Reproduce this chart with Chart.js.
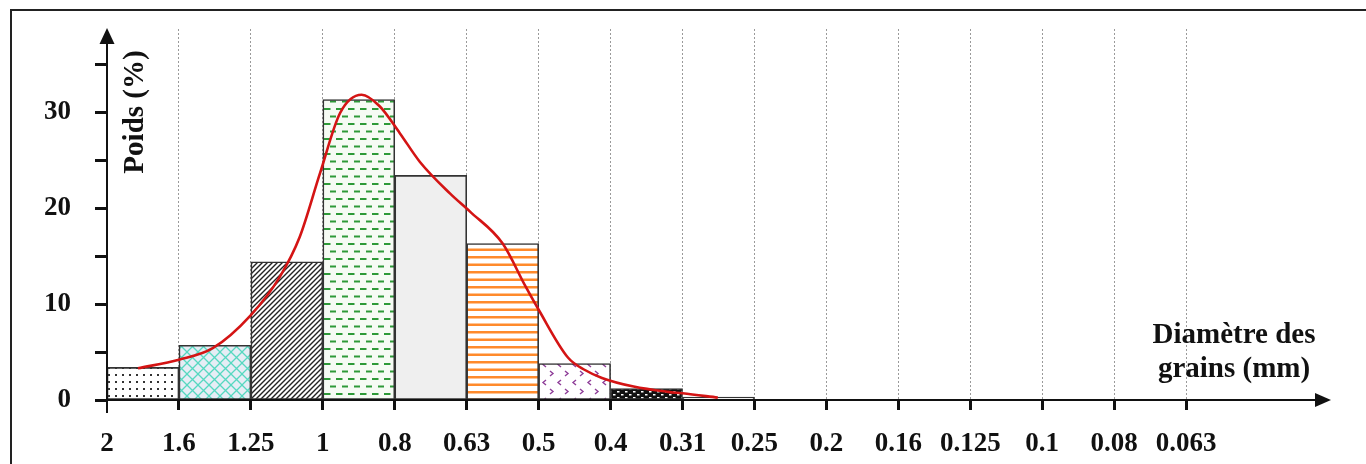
<!DOCTYPE html>
<html>
<head>
<meta charset="utf-8">
<script src="https://cdn.jsdelivr.net/npm/chart.js@4.4.1/dist/chart.umd.min.js"></script>
<style>
  html, body { margin: 0; padding: 0; background: #fff; overflow: hidden; }
  #wrap { position: relative; width: 1366px; height: 464px; }
  #frame {
    position: absolute; left: 10px; top: 9px; width: 1400px; height: 500px;
    border: 2px solid #222; box-sizing: border-box; pointer-events: none;
  }
  canvas { position: absolute; left: 0; top: 0; }
</style>
</head>
<body>
<div id="wrap">
  <canvas id="chart" width="1366" height="464"></canvas>
  <div id="frame"></div>
</div>
<script>
// Sieve openings (mm), one label per tick on the x axis
const SIEVE_LABELS = ['2', '1.6', '1.25', '1', '0.8', '0.63', '0.5', '0.4', '0.31',
  '0.25', '0.2', '0.16', '0.125', '0.1', '0.08', '0.063'];

// Weight retained (%) in each interval between two sieves
const WEIGHT_PCT = [3.4, 5.7, 14.4, 31.3, 23.4, 16.3, 3.8, 1.2, 0.3, 0, 0, 0, 0, 0, 0];

// Smoothed distribution curve (position in sieve steps, %)
const CURVE_POS = [0.43, 1.0, 1.47, 2.0, 2.4, 2.68, 2.96, 3.24, 3.54, 3.79, 4.07, 4.35,
  4.77, 5.05, 5.5, 5.82, 6.0, 6.41, 6.65, 6.88, 7.32, 7.8, 8.0, 8.49];
const CURVE_PCT = [3.3, 4.2, 5.4, 8.85, 12.8, 17.0, 23.6, 29.9, 31.8, 30.6, 27.8, 24.8,
  21.5, 19.6, 16.3, 11.8, 9.4, 4.4, 3.1, 2.3, 1.4, 0.85, 0.7, 0.25];

const Y_TICKS = [0, 5, 10, 15, 20, 25, 30, 35];
const Y_LABELLED = [0, 10, 20, 30];

const FONT = "'Liberation Serif', 'Times New Roman', serif";
const INK = '#111';

/**
 * Small tiled canvases used as bar fills.
 */
function makePattern(w, h, draw) {
  const c = document.createElement('canvas');
  c.width = w; c.height = h;
  const g = c.getContext('2d');
  draw(g, w, h);
  return g.createPattern(c, 'repeat');
}

const dots = makePattern(7, 7, g => {
  g.fillStyle = '#fff'; g.fillRect(0, 0, 7, 7);
  g.fillStyle = '#333'; g.fillRect(3, 3, 2, 2);
});

const crossHatch = makePattern(11, 11, g => {
  g.fillStyle = '#e6edf5'; g.fillRect(0, 0, 11, 11);
  g.strokeStyle = '#56d8c0'; g.lineWidth = 1.3;
  g.beginPath();
  g.moveTo(0, 0); g.lineTo(11, 11);
  g.moveTo(0, 11); g.lineTo(11, 0);
  g.stroke();
});

const diagonal = makePattern(5, 5, g => {
  g.fillStyle = '#fff'; g.fillRect(0, 0, 5, 5);
  g.strokeStyle = '#222'; g.lineWidth = 1.4;
  g.beginPath();
  g.moveTo(0, 5); g.lineTo(5, 0);
  g.moveTo(-1, 1); g.lineTo(1, -1);
  g.moveTo(4, 6); g.lineTo(6, 4);
  g.stroke();
});

const greenDash = makePattern(12, 15, g => {
  g.fillStyle = '#f6fbf4'; g.fillRect(0, 0, 12, 15);
  g.fillStyle = '#2e9a38';
  g.fillRect(0, 3, 6.5, 2);
  g.fillRect(6, 10.5, 6, 2);
});

const orangeLines = makePattern(4, 15, g => {
  g.fillStyle = '#fff'; g.fillRect(0, 0, 4, 15);
  g.fillStyle = '#ff8a2b';
  g.fillRect(0, 1, 4, 2.5);
  g.fillRect(0, 8.5, 4, 2.5);
});

const chevrons = makePattern(15, 18, g => {
  g.fillStyle = '#fff'; g.fillRect(0, 0, 15, 18);
  g.strokeStyle = '#8e3d98'; g.lineWidth = 1.4;
  g.beginPath();
  g.moveTo(6, 2); g.lineTo(3, 4.5); g.lineTo(6, 7);      // "<"
  g.moveTo(10, 11); g.lineTo(13, 13.5); g.lineTo(10, 16); // ">"
  g.stroke();
});

const blackDots = makePattern(8, 6, g => {
  g.fillStyle = '#111'; g.fillRect(0, 0, 8, 6);
  g.fillStyle = '#fff';
  g.fillRect(1, 1, 2.5, 1.5);
  g.fillRect(5, 4, 2.5, 1.5);
});

const BAR_FILLS = [dots, crossHatch, diagonal, greenDash, '#efefef', orangeLines,
  chevrons, blackDots, '#ffffff', '#fff', '#fff', '#fff', '#fff', '#fff', '#fff'];

/**
 * Axes with arrow heads, and the two axis titles.
 */
const axesPlugin = {
  id: 'arrowAxes',
  afterDraw(chart) {
    const { ctx, chartArea: a } = chart;
    ctx.save();
    ctx.strokeStyle = INK; ctx.fillStyle = INK; ctx.lineWidth = 2;

    // y axis (runs a little below the x axis)
    ctx.beginPath();
    ctx.moveTo(a.left, a.bottom + 13);
    ctx.lineTo(a.left, a.top + 12);
    ctx.stroke();
    ctx.beginPath();
    ctx.moveTo(a.left, a.top - 1);
    ctx.lineTo(a.left - 7.5, a.top + 15);
    ctx.lineTo(a.left + 7.5, a.top + 15);
    ctx.closePath(); ctx.fill();

    // x axis
    ctx.beginPath();
    ctx.moveTo(a.left, a.bottom);
    ctx.lineTo(a.right - 12, a.bottom);
    ctx.stroke();
    ctx.beginPath();
    ctx.moveTo(a.right + 1, a.bottom);
    ctx.lineTo(a.right - 15, a.bottom - 7);
    ctx.lineTo(a.right - 15, a.bottom + 7);
    ctx.closePath(); ctx.fill();

    // titles
    ctx.font = 'bold 29px ' + FONT;
    ctx.textAlign = 'center';
    ctx.textBaseline = 'middle';
    ctx.save();
    ctx.translate(136, 112);
    ctx.rotate(-Math.PI / 2);
    ctx.fillText('Poids (%)', 0, 0);
    ctx.restore();

    ctx.textBaseline = 'alphabetic';
    ctx.fillText('Diamètre des', 1234, 343);
    ctx.fillText('grains (mm)', 1234, 377);
    ctx.restore();
  }
};

window.addEventListener('DOMContentLoaded', () => {
  const ctx = document.getElementById('chart').getContext('2d');

  new Chart(ctx, {
    type: 'bar',
    data: {
      datasets: [
        {
          type: 'line',
          order: 0,
          data: CURVE_POS.map((x, i) => ({ x, y: CURVE_PCT[i] })),
          borderColor: '#d41414',
          borderWidth: 2.6,
          pointRadius: 0,
          cubicInterpolationMode: 'monotone',
          fill: false
        },
        {
          order: 1,
          data: WEIGHT_PCT.map((v, i) => ({ x: i + 0.5, y: v })),
          backgroundColor: BAR_FILLS,
          borderColor: '#333',
          borderWidth: c => (c.raw && c.raw.y > 0 ? 1.6 : 0),
          borderSkipped: false,
          barPercentage: 1,
          categoryPercentage: 1
        }
      ]
    },
    options: {
      responsive: false,
      animation: false,
      events: [],
      layout: { padding: { left: 0, top: 29, right: 36, bottom: 0 } },
      plugins: { legend: { display: false }, tooltip: { enabled: false } },
      scales: {
        x: {
          type: 'linear',
          min: 0,
          max: 17,
          offset: false,
          afterBuildTicks: s => { s.ticks = SIEVE_LABELS.map((_, i) => ({ value: i })); },
          afterFit: s => { s.height = 64; s.paddingLeft = 0; s.paddingRight = 0; },
          border: { display: false, dash: [2, 2] },
          grid: {
            offset: false,
            color: c => (c.tick && c.tick.value > 0 ? '#9a9a9a' : 'rgba(0,0,0,0)'),
            lineWidth: 1,
            drawTicks: true,
            tickLength: 10,
            tickWidth: 3,
            tickColor: c => (c.tick && c.tick.value > 0 ? INK : 'rgba(0,0,0,0)'),
            tickBorderDash: []
          },
          ticks: {
            autoSkip: false,
            maxRotation: 0,
            padding: 18,
            color: INK,
            font: { family: FONT, size: 27, weight: 'bold' },
            callback: v => SIEVE_LABELS[v] ?? ''
          }
        },
        y: {
          min: 0,
          max: 38.65,
          afterBuildTicks: s => { s.ticks = Y_TICKS.map(v => ({ value: v })); },
          afterFit: s => { s.width = 107; s.paddingTop = 0; s.paddingBottom = 0; },
          border: { display: false },
          grid: {
            drawOnChartArea: false,
            drawTicks: true,
            tickLength: 12,
            tickWidth: 3,
            tickColor: INK
          },
          ticks: {
            padding: 24,
            color: INK,
            font: { family: FONT, size: 27, weight: 'bold' },
            callback: v => (Y_LABELLED.includes(v) ? String(v) : '')
          }
        }
      }
    },
    plugins: [axesPlugin]
  });
});
</script>
</body>
</html>
